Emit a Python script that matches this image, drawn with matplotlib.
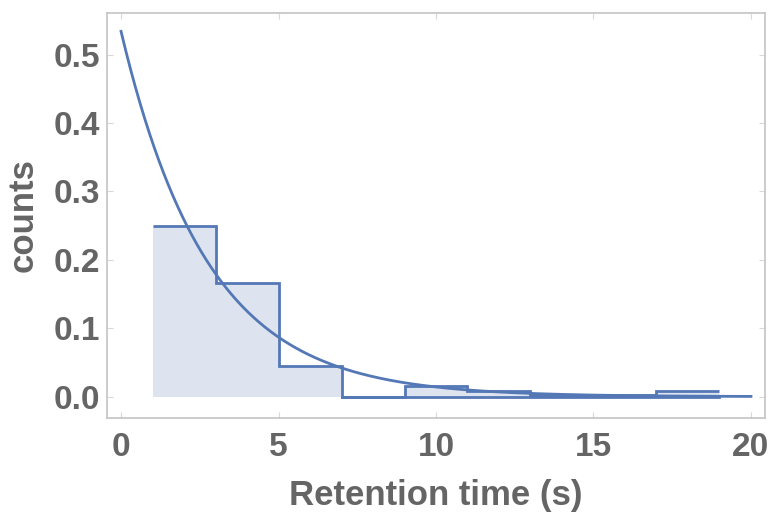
import numpy as np
import matplotlib
matplotlib.use("Agg")
import matplotlib.pyplot as plt

# histogram of retention times (bin edges in s, normalised counts)
bin_edges = [1, 3, 5, 7, 9, 11, 13, 15, 17, 19]
counts = [0.249, 0.166, 0.045, 0.0, 0.016, 0.008, 0.002, 0.002, 0.008]

# exponential fit
fit_amp = 0.534
fit_rate = 0.363
fit_range = (0, 20)

blue = "#5478B6"
fill = "#DDE4EF"
grey = "#656565"

plt.rcParams["font.family"] = ["Liberation Sans", "DejaVu Sans"]

fig = plt.figure(figsize=(7.71, 5.14), dpi=100)
ax = fig.add_axes([0.139, 0.187, 0.853, 0.788])

ax.stairs(counts, bin_edges, baseline=0, fill=True, color=fill, linewidth=0)
ax.stairs(counts, bin_edges, baseline=None, color=blue, linewidth=2)
ax.plot([bin_edges[3], bin_edges[-1]], [0, 0], color=blue, linewidth=2)

t = np.linspace(fit_range[0], fit_range[1], 400)
ax.plot(t, fit_amp * np.exp(-fit_rate * t), color=blue, linewidth=2)

ax.set_xlim(-0.44, 20.44)
ax.set_ylim(-0.031, 0.561)
ax.set_xticks([0, 5, 10, 15, 20])
ax.set_yticks([0.0, 0.1, 0.2, 0.3, 0.4, 0.5])
ax.set_yticklabels(["0.0", "0.1", "0.2", "0.3", "0.4", "0.5"])
ax.tick_params(labelsize=24, labelcolor=grey, color="#d8d8d8", direction="in",
               length=4, top=True, right=True)
ax.tick_params(axis="x", pad=10)
ax.tick_params(axis="y", pad=5)
for lbl in ax.get_xticklabels() + ax.get_yticklabels():
    lbl.set_fontweight("bold")
for s in ax.spines.values():
    s.set_color("#c4c4c4")
    s.set_linewidth(1.2)

ax.set_xlabel("Retention time (s)", fontsize=25, fontweight="bold", color=grey, labelpad=12)
ax.set_ylabel("counts", fontsize=25, fontweight="bold", color=grey, labelpad=10)

fig.savefig("out.png", dpi=100)
